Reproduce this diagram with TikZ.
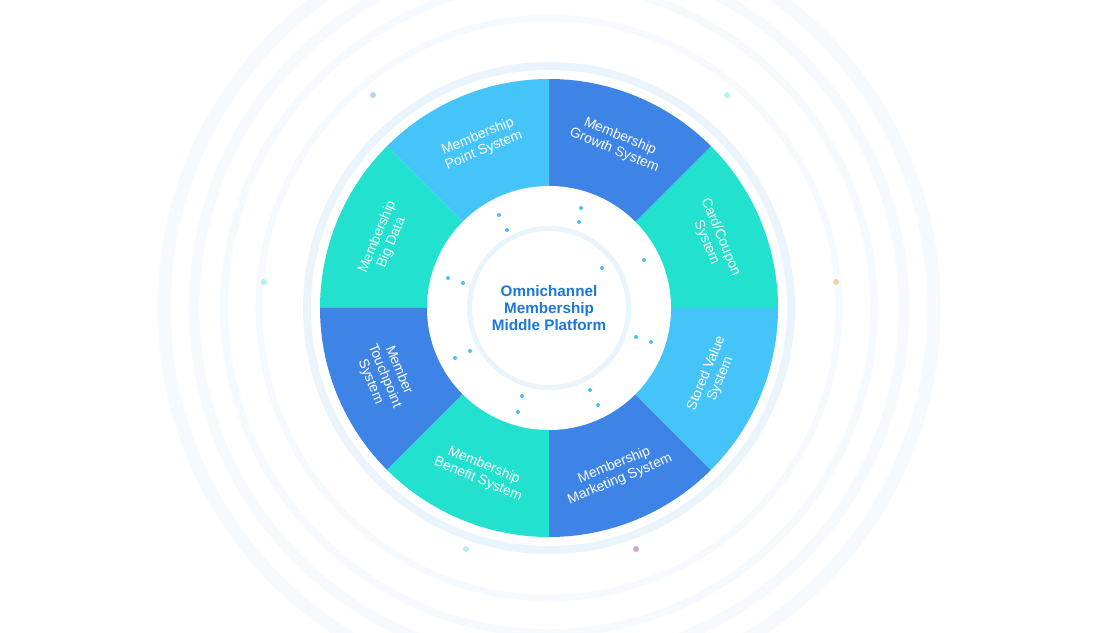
\documentclass[tikz,border=0pt]{standalone}
\usepackage{fontspec}
\setmainfont{Liberation Sans}
\definecolor{darkseg}{HTML}{3D84E6}
\definecolor{tealseg}{HTML}{22E2CF}
\definecolor{lightseg}{HTML}{45C4FA}
\definecolor{ringblue}{HTML}{EAF4FD}
\definecolor{titleblue}{HTML}{1C78D8}
\begin{document}
\begin{tikzpicture}[x=0.0265cm,y=-0.0265cm,font=\small]

\tikzstyle{seglabel}=[text=white,align=center,font=\fontsize{10.5}{11.5}\selectfont,inner sep=0pt]
\tikzstyle{dot}=[circle,inner sep=0pt,minimum size=4.5pt]

    \useasboundingbox (0,0) rectangle (1100,633);
    \coordinate (c) at (549,308);

    % faint rings
    \foreach \r/\w in {385/10,355/8,325/6,290/5}
        \draw[ringblue,line width=\w pt,opacity=0.45] (c) circle[radius=\r];
    \fill[ringblue] (c) circle[radius=246];
    \fill[white] (c) circle[radius=238];

    % segments (y is flipped, so angles are negated)
    \foreach \a/\col in {0/tealseg,45/darkseg,90/lightseg,135/tealseg,180/darkseg,225/tealseg,270/darkseg,315/lightseg}
        \fill[\col] (c) -- ++(-\a:229) arc[start angle=-\a,end angle=-\a-45,radius=229] -- cycle;

    \fill[white] (c) circle[radius=122];
    \fill[ringblue] (c) circle[radius=82];
    \fill[white] (c) circle[radius=77];

    \node[seglabel,rotate=-22.5] (grow) at ([shift={(-67.5:178)}]c) {Membership\\Growth System};
    \node[seglabel,rotate=-67.5] (card) at ([shift={(-22.5:178)}]c) {Card/Coupon\\System};
    \node[seglabel,rotate=67.5] (store) at ([shift={(22.5:178)}]c) {Stored Value\\System};
    \node[seglabel,rotate=22.5] (market) at ([shift={(67.5:178)}]c) {Membership\\Marketing System};
    \node[seglabel,rotate=-22.5] (benefit) at ([shift={(112.5:178)}]c) {Membership\\Benefit System};
    \node[seglabel,rotate=-67.5] (touch) at ([shift={(157.5:178)}]c) {Member\\Touchpoint\\System};
    \node[seglabel,rotate=67.5] (bigdata) at ([shift={(202.5:178)}]c) {Membership\\Big Data};
    \node[seglabel,rotate=22.5] (point) at ([shift={(247.5:178)}]c) {Membership\\Point System};

    \node[text=titleblue,align=center,font=\bfseries\fontsize{11.5}{13}\selectfont] (hub) at (c) {Omnichannel\\Membership\\Middle Platform};

    % small dots
    \foreach \x/\y in {499/215,507/230,581/208,579/222,602/268,644/260,448/278,463/283,455/358,470/351,636/337,651/342,522/396,518/412,590/390,598/405}
        \fill[lightseg] (\x,\y) circle[radius=2];
    \foreach \x/\y/\col in {373/95/darkseg,727/95/tealseg,264/282/tealseg,836/282/orange,466/549/lightseg,636/549/violet}
        \node[dot,fill=\col,opacity=0.35] at (\x,\y) {};

\end{tikzpicture}
\end{document}
